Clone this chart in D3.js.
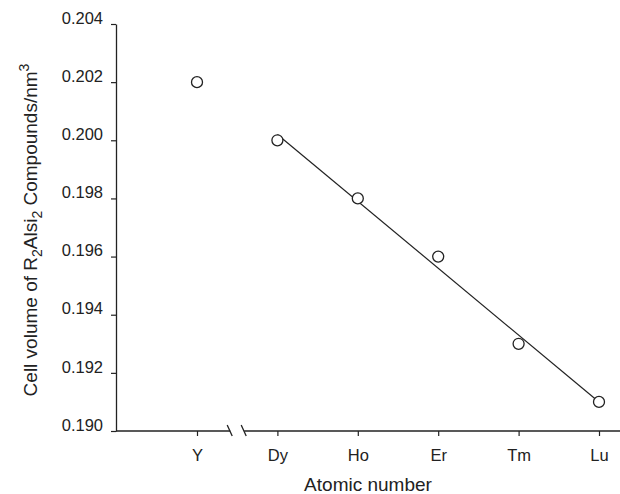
<!DOCTYPE html>
<html>
<head>
<meta charset="utf-8">
<script src="https://cdn.jsdelivr.net/npm/d3@7"></script>
<style>
  body { margin: 0; background: #fff; }
  text { font-family: "Liberation Sans", Arial, sans-serif; fill: #222; }
</style>
</head>
<body>
<div id="chart"></div>
<script>
// Datos
const elements = ["Y", "Dy", "Ho", "Er", "Tm", "Lu"];
const cellVolume = [0.202, 0.200, 0.198, 0.196, 0.193, 0.191];
const yTicks = [0.190, 0.192, 0.194, 0.196, 0.198, 0.200, 0.202, 0.204];
// recta ajustada Dy..Lu
const fitElements = ["Dy", "Lu"];
const fitValues = [0.2002, 0.1910];

const svgWidth = 620, svgHeight = 494;
const axisX = 116, axisY = 431;

const svg = d3.select("#chart").append("svg")
    .attr("width", svgWidth)
    .attr("height", svgHeight);

const x = d3.scalePoint()
    .domain(elements)
    .range([197, 599]);

const y = d3.scaleLinear()
    .domain([0.190, 0.204])
    .range([axisY, 24]);

// eje y
const yAxis = svg.append("g")
    .attr("transform", `translate(${axisX},0)`)
    .call(d3.axisLeft(y).tickValues(yTicks).tickFormat(d3.format(".3f")).tickSize(5).tickSizeOuter(0));
yAxis.select(".domain").attr("stroke", "#222").attr("stroke-width", 1.3);
yAxis.selectAll(".tick line").attr("stroke", "#222").attr("stroke-width", 1.2);
yAxis.selectAll(".tick text").attr("font-size", 16.5).attr("x", -13).attr("dy", "-0.05em");

// eje x (con corte entre Y y Dy)
const xAxis = svg.append("g")
    .attr("transform", `translate(0,${axisY})`)
    .call(d3.axisBottom(x).tickSize(5).tickSizeOuter(0));
xAxis.select(".domain").remove();
xAxis.selectAll(".tick line").attr("stroke", "#222").attr("stroke-width", 1.2);
xAxis.selectAll(".tick text").attr("font-size", 16.5).attr("y", 30).attr("dy", 0);

const brk = (x("Y") + x("Dy")) / 2;
const axisLine = svg.append("g").attr("stroke", "#222").attr("stroke-width", 1.3).attr("fill", "none");
axisLine.append("line").attr("x1", axisX).attr("x2", brk - 7).attr("y1", axisY).attr("y2", axisY);
axisLine.append("line").attr("x1", brk + 7).attr("x2", svgWidth).attr("y1", axisY).attr("y2", axisY);
[-8, 6].forEach(o => {
  axisLine.append("line")
    .attr("x1", brk + o - 2).attr("y1", axisY - 6)
    .attr("x2", brk + o + 3).attr("y2", axisY + 5);
});

// recta
svg.append("line")
    .attr("x1", x(fitElements[0])).attr("y1", y(fitValues[0]))
    .attr("x2", x(fitElements[1])).attr("y2", y(fitValues[1]))
    .attr("stroke", "#222").attr("stroke-width", 1.2);

// puntos
svg.selectAll(".pt")
    .data(elements.map((e, i) => ({ e, v: cellVolume[i] })))
    .enter().append("circle")
    .attr("cx", d => x(d.e))
    .attr("cy", d => y(d.v))
    .attr("r", 5.5)
    .attr("fill", "#fff")
    .attr("stroke", "#222")
    .attr("stroke-width", 1.3);

// titulos
svg.append("text")
    .attr("x", 368).attr("y", 491)
    .attr("text-anchor", "middle")
    .attr("font-size", 19)
    .text("Atomic number");

const yl = svg.append("text")
    .attr("transform", "translate(37,230) rotate(-90)")
    .attr("text-anchor", "middle")
    .attr("font-size", 19);
yl.append("tspan").text("Cell volume of R");
yl.append("tspan").attr("font-size", 14).attr("dy", 5).text("2");
yl.append("tspan").attr("dy", -5).text("Alsi");
yl.append("tspan").attr("font-size", 14).attr("dy", 5).text("2");
yl.append("tspan").attr("dy", -5).text(" Compounds/nm");
yl.append("tspan").attr("font-size", 14).attr("dy", -8).text("3");
</script>
</body>
</html>
